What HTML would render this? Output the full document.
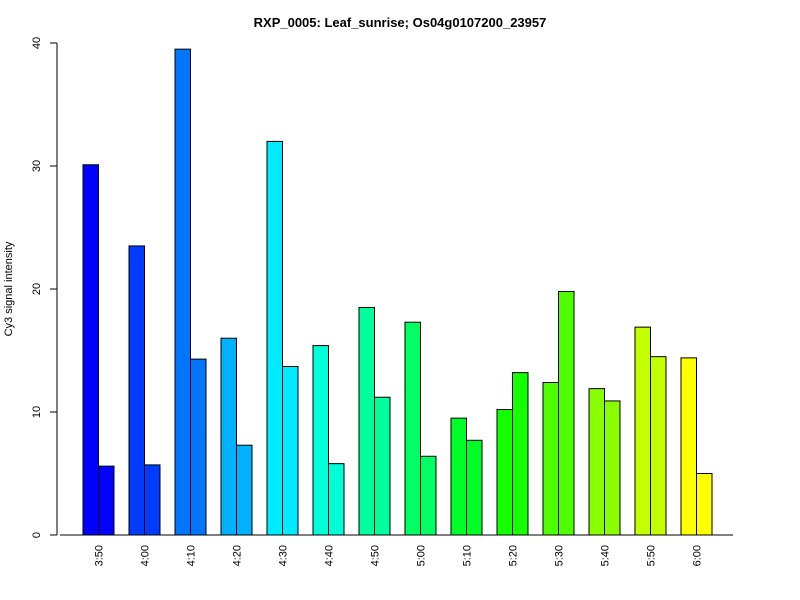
<!DOCTYPE html>
<html><head><meta charset="utf-8"><style>body{margin:0;background:#fff}svg{display:block;font-family:"Liberation Sans",Arial,sans-serif}</style></head>
<body>
<svg id="c" width="800" height="600" viewBox="0 0 800 600">
<text x="400" y="27" text-anchor="middle" font-weight="bold" font-size="13">RXP_0005: Leaf_sunrise; Os04g0107200_23957</text>
<text transform="translate(12,289) rotate(-90)" text-anchor="middle" font-size="11">Cy3 signal intensity</text>
<g id="g"></g>
</svg>
<script>
const categories=["3:50","4:00","4:10","4:20","4:30","4:40","4:50","5:00","5:10","5:20","5:30","5:40","5:50","6:00"];
const series1=[30.1,23.5,39.5,16.0,32.0,15.4,18.5,17.3,9.5,10.2,12.4,11.9,16.9,14.4];
const series2=[5.6,5.7,14.3,7.3,13.7,5.8,11.2,6.4,7.7,13.2,19.8,10.9,14.5,5.0];
const yTicks=[0,10,20,30,40];
const NS="http://www.w3.org/2000/svg",g=document.getElementById('g');
const y0=535,yScale=v=>y0-v*(492/40),xPair=i=>83+i*46,bw=15.5;
function mk(t,a){const e=document.createElementNS(NS,t);for(const k in a)e.setAttribute(k,a[k]);g.appendChild(e);return e;}
const n=categories.length;
categories.forEach((c,i)=>{
 const hue=240-i*180/(n-1),col=`hsl(${hue},100%,50%)`;
 [series1[i],series2[i]].forEach((v,j)=>{
  const r=mk('rect',{x:xPair(i)+j*bw,y:yScale(v),width:bw,height:y0-yScale(v),fill:col,stroke:'#000','stroke-width':1});
  
  
 });
 const cx=xPair(i)+bw;
 const t=mk('text',{transform:`translate(${cx+4},${y0+10}) rotate(-90)`,'text-anchor':'end','font-size':11});
 t.textContent=c;
 
 
});
const xl=mk('line',{x1:60,x2:733,y1:y0,y2:y0,stroke:'#000'});


const yl=mk('line',{x1:57,x2:57,y1:yScale(0),y2:yScale(40),stroke:'#000'});


yTicks.forEach(v=>{
 const tk=mk('line',{x1:50,x2:57,y1:yScale(v),y2:yScale(v),stroke:'#000'});
 
 
 const t=mk('text',{transform:`translate(40,${yScale(v)}) rotate(-90)`,'text-anchor':'middle','font-size':11});
 t.textContent=v;
 
 
});
</script>
</body></html>
